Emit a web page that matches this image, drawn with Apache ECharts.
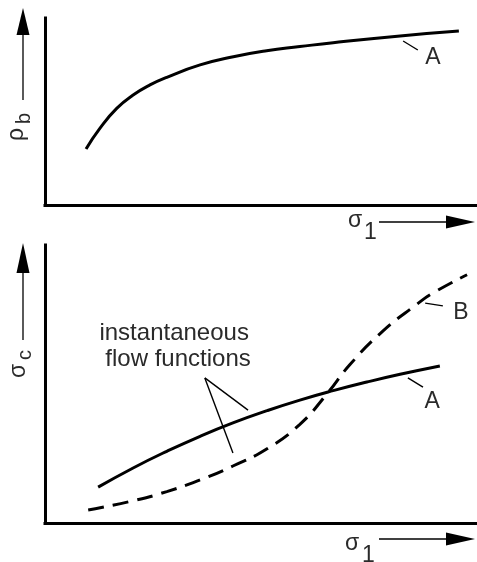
<!DOCTYPE html>
<html>
<head>
<meta charset="utf-8">
<script src="https://cdn.jsdelivr.net/npm/echarts@6/dist/echarts.min.js"></script>
<style>
  html, body { margin: 0; padding: 0; background: #fff; }
  #chart { width: 477px; height: 562px; }
</style>
</head>
<body>
<div id="chart"></div>
<script>
// Upper panel: bulk density rho_b versus major principal stress sigma_1 (curve A)
const topSigma1 = [0.95, 1.27, 1.66, 2.04, 2.43, 2.82, 3.59, 4.36, 5.13, 5.90, 6.67, 8.22, 9.58];
const topRhoB   = [3.00, 4.10, 5.17, 5.88, 6.42, 6.83, 7.49, 7.93, 8.25, 8.47, 8.68, 9.04, 9.30];

// Lower panel: unconfined yield strength sigma_c versus sigma_1
const curveASigma1 = [1.23, 2.04, 2.82, 3.59, 4.35, 5.14, 5.90, 6.67, 7.45, 8.22, 9.14];
const curveASigmaC = [1.29, 1.98, 2.58, 3.12, 3.60, 4.04, 4.42, 4.76, 5.07, 5.35, 5.65];
const curveBSigma1 = [1.00, 2.04, 2.82, 3.59, 4.35, 5.14, 5.90, 6.53, 7.06, 7.82, 8.61, 8.98, 9.77];
const curveBSigmaC = [0.47, 0.80, 1.13, 1.55, 2.05, 2.67, 3.55, 4.65, 5.70, 6.90, 7.87, 8.27, 8.93];

const curveNames = ['A', 'A', 'B'];
const calloutLines = ['instantaneous', 'flow functions'];

const INK = '#000';
const TEXT = '#2a2a2a';
const FONT = '"Liberation Sans", Arial, sans-serif';

function pairs(xs, ys) { return xs.map((x, i) => [x, ys[i]]); }

function axis(gridIndex) {
  return {
    type: 'value', gridIndex, min: 0, max: 10,
    axisLine: { show: true, onZero: false, lineStyle: { color: INK, width: 3, cap: 'square' } },
    axisTick: { show: false }, axisLabel: { show: false }, splitLine: { show: false }
  };
}

function curve(gridIndex, data, dashed) {
  return {
    type: 'line', xAxisIndex: gridIndex, yAxisIndex: gridIndex,
    data, smooth: 0.5, showSymbol: false, silent: true, clip: false,
    lineStyle: { color: INK, width: 3, type: dashed ? [16, 9] : 'solid', cap: 'butt' }
  };
}

const chart = echarts.init(document.getElementById('chart'), null, { renderer: 'canvas' });
chart.setOption({
  animation: false,
  backgroundColor: '#fff',
  grid: [
    { left: 45, top: 18, width: 432, height: 187 },
    { left: 45, top: 245, width: 432, height: 278 }
  ],
  xAxis: [axis(0), axis(1)],
  yAxis: [axis(0), axis(1)],
  series: [
    curve(0, pairs(topSigma1, topRhoB), false),
    curve(1, pairs(curveASigma1, curveASigmaC), false),
    curve(1, pairs(curveBSigma1, curveBSigmaC), true)
  ]
});

// Annotation anchors in data coordinates of each panel
const leaders = [
  { grid: 0, from: [8.29, 8.77], to: [8.63, 8.29], label: [8.98, 7.86], name: curveNames[0] },
  { grid: 1, from: [8.40, 5.22], to: [8.75, 4.89], label: [8.96, 4.35], name: curveNames[1] },
  { grid: 1, from: [8.80, 7.91], to: [9.21, 7.81], label: [9.63, 7.55], name: curveNames[2] }
];
const callout = { apex: [3.70, 5.22], ends: [[4.70, 4.06], [4.35, 2.52]], text: [[2.99, 6.83], [3.08, 5.90]] };

const px = (g, p) => chart.convertToPixel({ gridIndex: g }, p);
const graphics = [];

function line(x1, y1, x2, y2, w) {
  graphics.push({ type: 'line', shape: { x1, y1, x2, y2 }, style: { stroke: INK, lineWidth: w || 1.4 }, silent: true });
}
function tri(points) {
  graphics.push({ type: 'polygon', shape: { points }, style: { fill: INK }, silent: true });
}
function text(str, x, y, opts) {
  graphics.push(Object.assign({
    type: 'text', x, y, silent: true,
    style: Object.assign({ text: str, fill: TEXT, font: '23px ' + FONT, align: 'center', verticalAlign: 'middle' }, opts && opts.style)
  }, opts && opts.el));
}

leaders.forEach(l => {
  const a = px(l.grid, l.from), b = px(l.grid, l.to), c = px(l.grid, l.label);
  line(a[0], a[1], b[0], b[1], 1.4);
  text(l.name, c[0], c[1]);
});

const apex = px(1, callout.apex);
callout.ends.forEach(e => { const p = px(1, e); line(apex[0], apex[1], p[0], p[1], 1.4); });
callout.text.forEach((t, i) => { const p = px(1, t); text(calloutLines[i], p[0], p[1], { style: { font: '24px ' + FONT } }); });

// Axis direction arrows and titles
function yArrow(tipY, baseY, endY) {
  line(23, baseY - 2, 23, endY, 1.3);
  tri([[23, tipY], [16.5, baseY], [29.5, baseY]]);
}
function xArrow(y) {
  line(379, y, 450, y, 1.3);
  tri([[475, y], [446, y - 6.5], [446, y + 6.5]]);
}
yArrow(8, 35, 100);
yArrow(243, 273, 340);
xArrow(222);
xArrow(539);

const rot = { rotation: Math.PI / 2 };
const left = { align: 'left' };
const sub = { align: 'left', font: '20px ' + FONT };
// rho_b (rotated, reading upward)
text('ρ', 17, 141, { el: rot, style: left });
text('b', 24, 124, { el: rot, style: sub });
// sigma_c (rotated, reading upward)
text('σ', 19, 378, { el: rot, style: left });
text('c', 25, 360, { el: rot, style: sub });
// sigma_1 under each horizontal axis
text('σ', 348, 221, { style: left });
text('1', 364, 233, { style: left });
text('σ', 345, 544, { style: left });
text('1', 362, 556, { style: left });

chart.setOption({ graphic: graphics });
</script>
</body>
</html>
